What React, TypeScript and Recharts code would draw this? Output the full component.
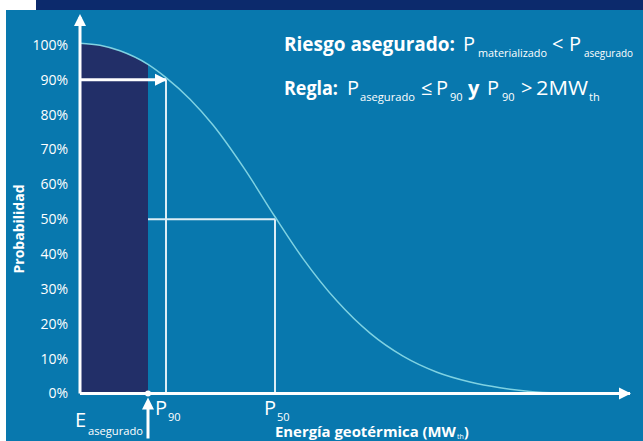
import { ComposedChart, Line, Area, XAxis, YAxis, LabelList } from 'recharts';

// Energía geotérmica (eje X, unidades arbitrarias) y probabilidad de excedencia (%)
const energy = [0, 4, 8, 13.6, 17.2, 22, 26.6, 33, 39, 44.6, 51.4, 58, 64.6, 71.4, 78, 84, 90, 96];
const probability = [100.5, 99.9, 98.3, 94.4, 90.6, 84.4, 77.0, 64.2, 50.7, 38.7, 26.5, 17.3, 10.7, 6.1, 3.3, 1.65, 0.6, 0.1];
const yTicks = [0, 10, 20, 30, 40, 50, 60, 70, 80, 90, 100];

const E_ASEGURADO = 13.6;
const P90 = 17.2;
const P50 = 39;
const X_MAX = 110;
const Y_MAX = 108;

const curveData = energy.map((e, i) => ({ energy: e, prob: probability[i] }));
const insuredData = curveData.filter((d) => d.energy <= E_ASEGURADO);

const arrow90 = [{ energy: 0, v: 90 }, { energy: P90, v: 90 }];
const line50 = [{ energy: E_ASEGURADO, v: 50 }, { energy: P50, v: 50 }];
const p90Line = [{ energy: P90, v: 0 }, { energy: P90, v: 90 }];
const p50Line = [{ energy: P50, v: 0 }, { energy: P50, v: 50 }];
const xAxisLine = [{ energy: 0, v: 0 }, { energy: X_MAX, v: 0 }];
const yAxisLine = [{ energy: 0, v: 0 }, { energy: 0, v: Y_MAX }];
const eMarker = [{ energy: E_ASEGURADO, v: 0 }];

const FONT = '"Open Sans", sans-serif';
const BLUE = '#0878ae';
const NAVY = '#0c2a6c';
const DARK = '#222f68';
const CURVE = '#7fd2e2';
const SOFT = '#dcedf5';

type Seg = { text: string; x: number; y: number; size: number; bold?: boolean; width?: number };

const headline: Seg[] = [
  { text: 'Riesgo asegurado:', x: 284, y: 51, size: 20, bold: true, width: 171 },
  { text: 'P', x: 463, y: 51, size: 20 },
  { text: 'materializado', x: 478, y: 57, size: 11, width: 69 },
  { text: '<', x: 552, y: 51, size: 20 },
  { text: 'P', x: 569, y: 51, size: 20 },
  { text: 'asegurado', x: 584, y: 57, size: 11, width: 49 },
  { text: 'Regla:', x: 284, y: 95, size: 20, bold: true, width: 54 },
  { text: 'P', x: 347, y: 95, size: 20 },
  { text: 'asegurado', x: 360, y: 101, size: 11, width: 55 },
  { text: '≤', x: 421, y: 95, size: 20 },
  { text: 'P', x: 436, y: 95, size: 20 },
  { text: '90', x: 450, y: 101, size: 11 },
  { text: 'y', x: 468, y: 95, size: 20, bold: true },
  { text: 'P', x: 487, y: 95, size: 20 },
  { text: '90', x: 502, y: 101, size: 11 },
  { text: '>', x: 521, y: 95, size: 20 },
  { text: '2MW', x: 536, y: 95, size: 20, width: 52 },
  { text: 'th', x: 589, y: 101, size: 11 },
  { text: 'Energía geotérmica (MW', x: 275, y: 437, size: 14, bold: true, width: 181 },
  { text: 'th', x: 457, y: 439, size: 7 },
  { text: ')', x: 464, y: 437, size: 14, bold: true },
];

function SegText({ s }: { s: Seg }) {
  return (
    <text
      x={s.x}
      y={s.y}
      fill="#fff"
      fontSize={s.size}
      fontWeight={s.bold ? 700 : 400}
      fontFamily={FONT}
      textLength={s.width}
      lengthAdjust={s.width ? 'spacingAndGlyphs' : undefined}
    >
      {s.text}
    </text>
  );
}

function arrowUp(cx: number, cy: number) {
  return `${cx},${cy - 3} ${cx - 6},${cy + 9} ${cx + 6},${cy + 9}`;
}

function arrowRight(cx: number, cy: number) {
  return `${cx + 1},${cy} ${cx - 11},${cy - 6} ${cx - 11},${cy + 6}`;
}

// etiqueta P90 / P50 debajo del eje
function pLabel(sub: string) {
  return (props: any) => {
    if (props.index !== 0) return null;
    const x = props.viewBox?.x ?? props.x;
    const y = props.viewBox?.y ?? props.y;
    return (
      <g fill="#fff" fontFamily={FONT}>
        <text x={x - 11} y={y + 21} fontSize={20}>P</text>
        <text x={x + 2} y={y + 27} fontSize={11}>{sub}</text>
      </g>
    );
  };
}

function eLabel(props: any) {
  const x = props.viewBox?.x ?? props.x;
  const y = props.viewBox?.y ?? props.y;
  return (
    <g fill="#fff" fontFamily={FONT}>
      <line x1={x} x2={x} y1={y + 45} y2={y + 13} stroke="#fff" strokeWidth={3} />
      <polygon points={arrowUp(x, y + 7)} />
      <text x={x - 73} y={y + 33} fontSize={20}>E</text>
      <text x={x - 60} y={y + 41} fontSize={11} textLength={55} lengthAdjust="spacingAndGlyphs">
        asegurado
      </text>
    </g>
  );
}

export default function App() {
  return (
    <div style={{ position: 'absolute', left: 0, top: 0, width: 643, height: 441, background: '#fff', overflow: 'hidden' }}>
      <div style={{ position: 'absolute', left: 36, top: 0, width: 607, height: 10, background: NAVY }} />
      <div style={{ position: 'absolute', left: 6, top: 10, width: 637, height: 431, background: BLUE }} />
      <div style={{ position: 'absolute', left: 0, top: 0 }}>
        <ComposedChart width={643} height={441} margin={{ top: 17, right: 13, bottom: 47.5, left: 0 }}>
          <XAxis type="number" dataKey="energy" domain={[0, X_MAX]} hide />
          <YAxis
            type="number"
            domain={[0, Y_MAX]}
            ticks={yTicks}
            width={80}
            axisLine={false}
            tickLine={false}
            tickMargin={6}
            tickFormatter={(v) => `${v}%`}
            tick={{ fill: '#fff', fontSize: 14, fontFamily: FONT }}
          />
          <Area
            data={insuredData}
            dataKey="prob"
            type="monotone"
            fill={DARK}
            fillOpacity={1}
            stroke="none"
            isAnimationActive={false}
          />
          <Line data={line50} dataKey="v" stroke={SOFT} strokeWidth={2} dot={false} isAnimationActive={false} />
          <Line data={p90Line} dataKey="v" stroke={SOFT} strokeWidth={2} dot={false} isAnimationActive={false}>
            <LabelList dataKey="v" content={pLabel('90')} />
          </Line>
          <Line data={p50Line} dataKey="v" stroke={SOFT} strokeWidth={2} dot={false} isAnimationActive={false}>
            <LabelList dataKey="v" content={pLabel('50')} />
          </Line>
          <Line
            data={curveData}
            dataKey="prob"
            type="monotone"
            stroke={CURVE}
            strokeWidth={1.5}
            dot={false}
            isAnimationActive={false}
          />
          <Line
            data={arrow90}
            dataKey="v"
            stroke="#fff"
            strokeWidth={3}
            isAnimationActive={false}
            dot={(p: any) =>
              p.index === 1 ? <polygon key="h90" points={arrowRight(p.cx, p.cy)} fill="#fff" /> : <g key={`d${p.index}`} />
            }
          />
          <Line
            data={xAxisLine}
            dataKey="v"
            stroke="#fff"
            strokeWidth={3}
            isAnimationActive={false}
            dot={(p: any) =>
              p.index === 1 ? <polygon key="hx" points={arrowRight(p.cx, p.cy)} fill="#fff" /> : <g key={`x${p.index}`} />
            }
          />
          <Line
            data={yAxisLine}
            dataKey="v"
            stroke="#fff"
            strokeWidth={3}
            isAnimationActive={false}
            dot={(p: any) =>
              p.index === 1 ? <polygon key="hy" points={arrowUp(p.cx, p.cy)} fill="#fff" /> : <g key={`y${p.index}`} />
            }
          />
          <Line data={eMarker} dataKey="v" stroke="none" dot={false} isAnimationActive={false}>
            <LabelList dataKey="v" content={eLabel} />
          </Line>
        </ComposedChart>
      </div>
      <svg width={643} height={441} style={{ position: 'absolute', left: 0, top: 0, pointerEvents: 'none' }}>
        {headline.map((s, i) => (
          <SegText key={i} s={s} />
        ))}
        <text
          transform="translate(24,229) rotate(-90)"
          textAnchor="middle"
          fill="#fff"
          fontSize={14}
          fontWeight={700}
          fontFamily={FONT}
        >
          Probabilidad
        </text>
      </svg>
    </div>
  );
}
